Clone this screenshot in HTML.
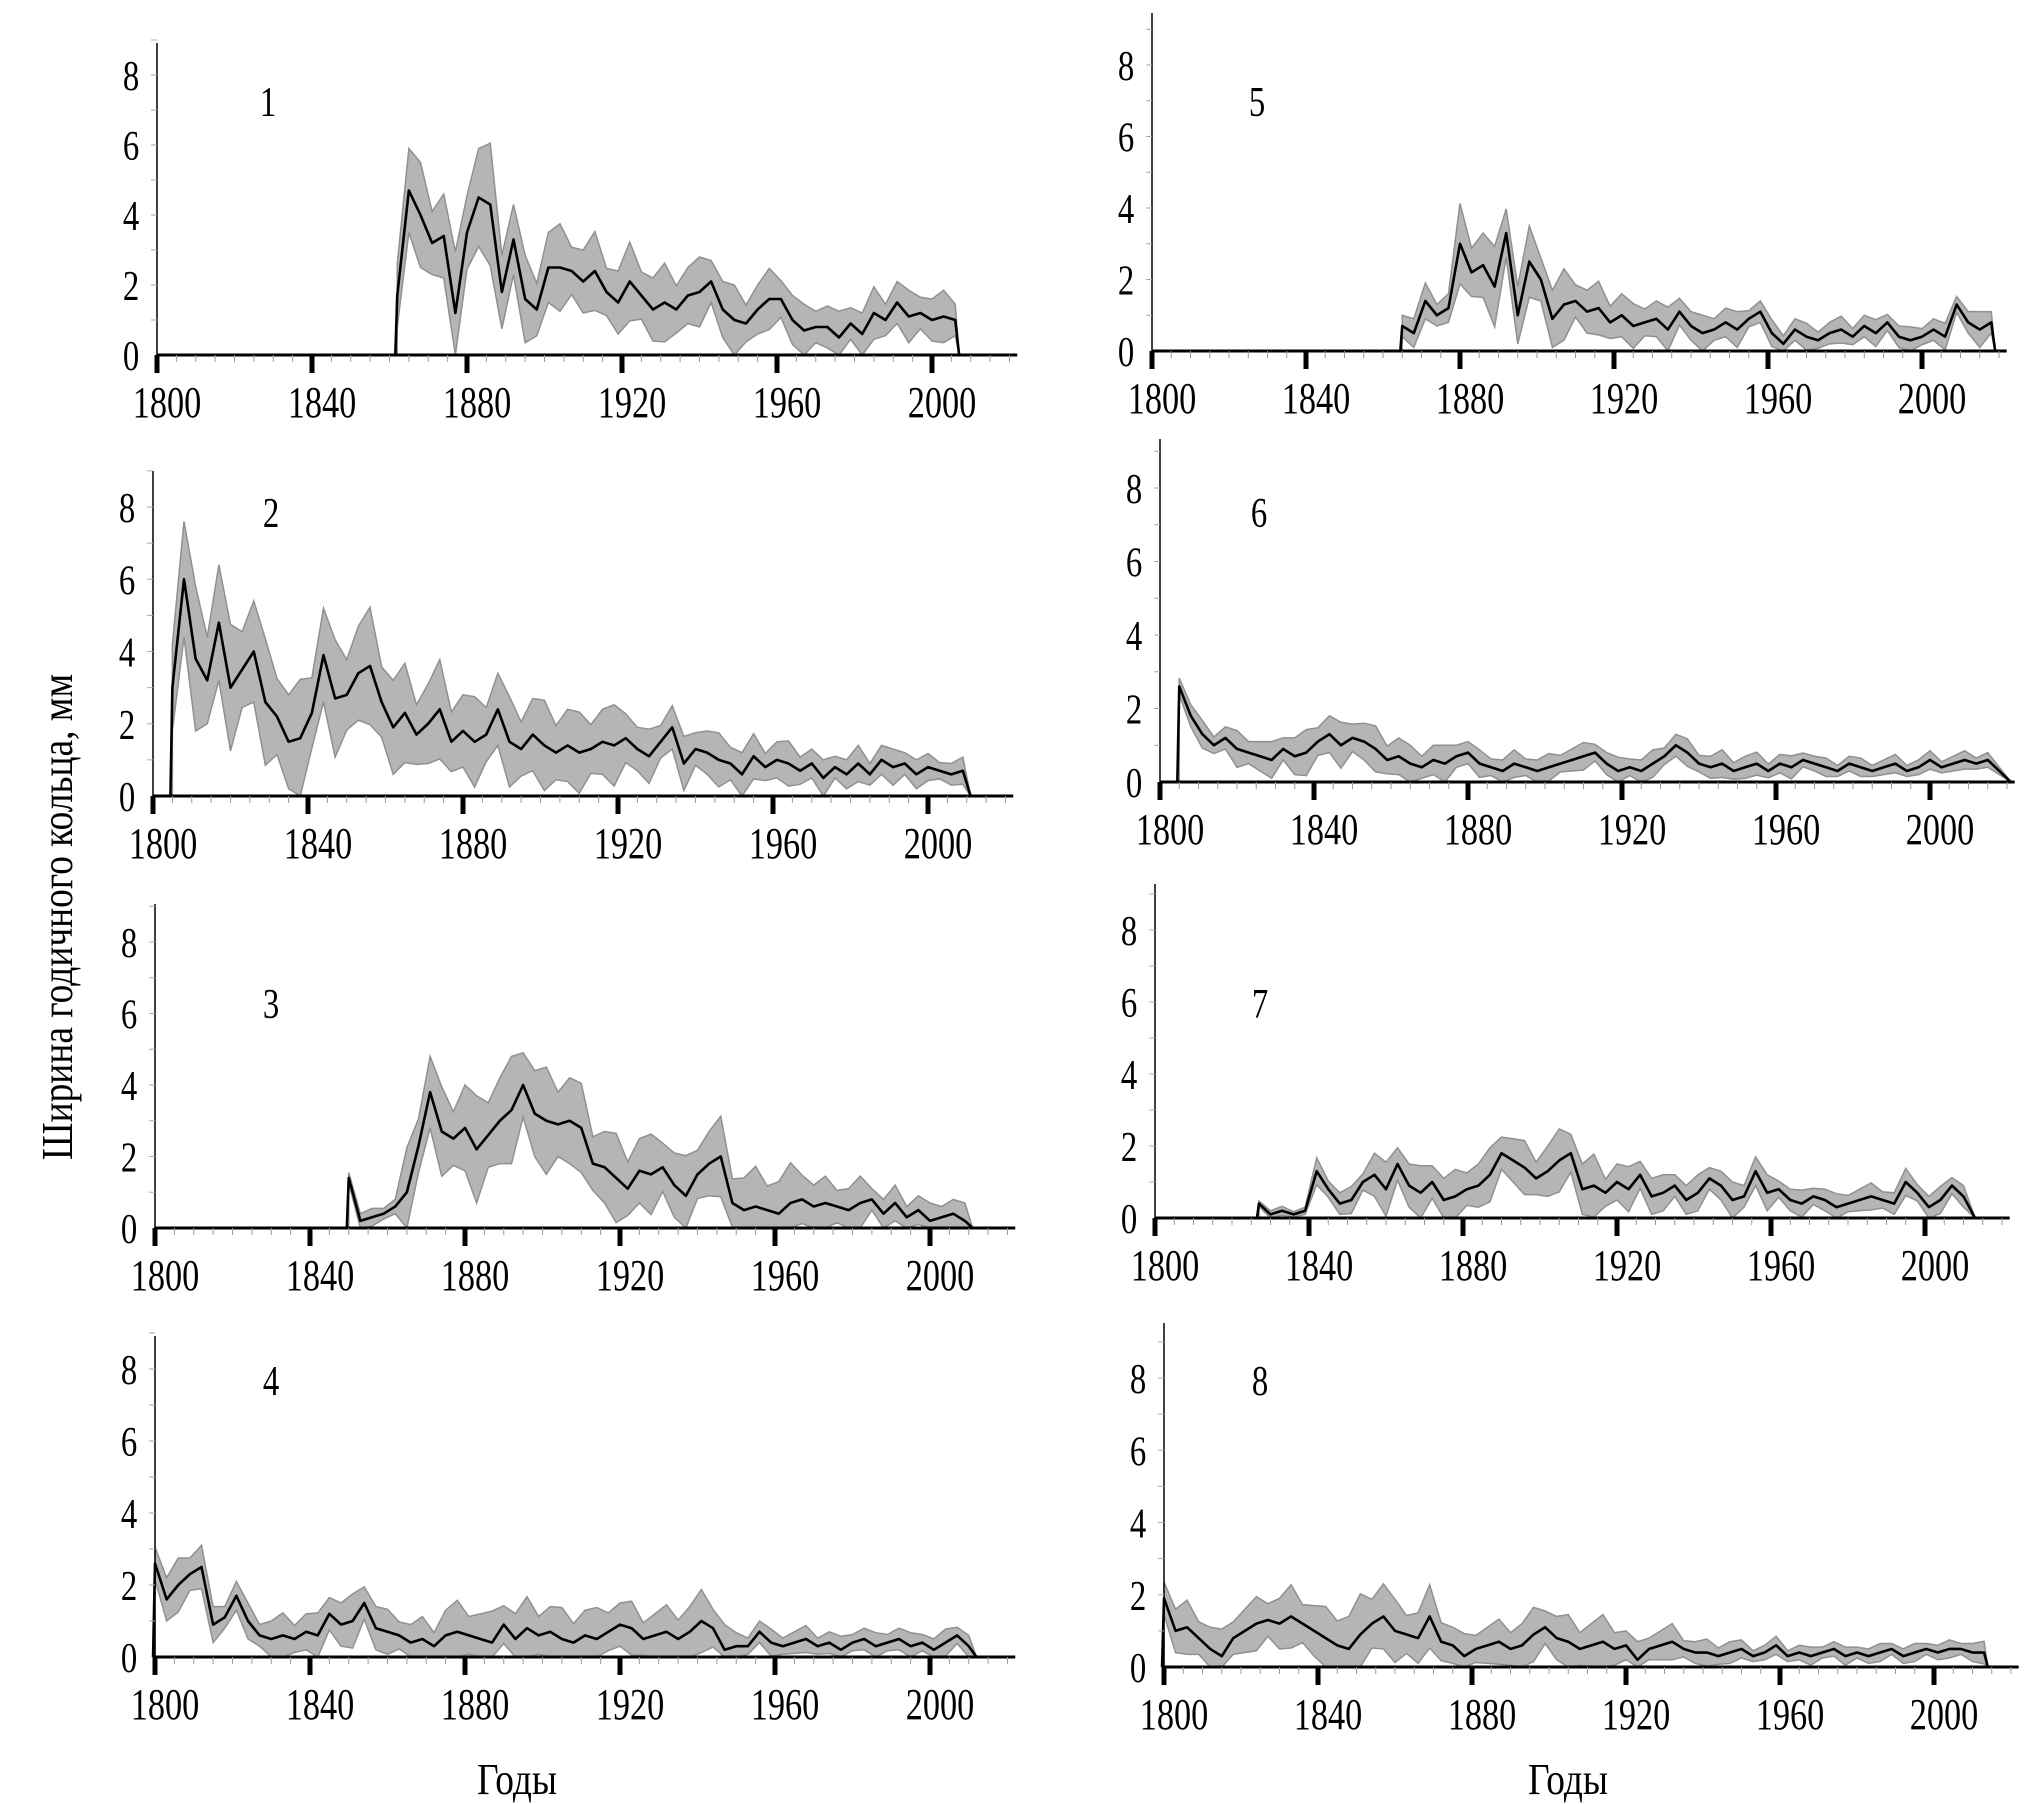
<!DOCTYPE html>
<html><head><meta charset="utf-8"><style>
html,body{margin:0;padding:0;background:#fff}
svg{display:block}
text{font-family:"Liberation Serif","DejaVu Serif",serif;fill:#000}
</style></head><body>
<svg id="fig" width="2043" height="1804" viewBox="0 0 2043 1804" xmlns="http://www.w3.org/2000/svg">
<g id="root"></g>
</svg>
<script>
// Data: start year, step 3 years; mean ring width (mm) and coarse SD (per 15 yr)
const start1=1862, mean1=[1.7,4.7,4.0,3.2,3.4,1.2,3.5,4.5,4.3,1.8,3.3,1.6,1.3,2.5,2.5,2.4,2.1,2.4,1.8,1.5,2.1,1.7,1.3,1.5,1.3,1.7,1.8,2.1,1.3,1.0,0.9,1.3,1.6,1.6,1.0,0.7,0.8,0.8,0.5,0.9,0.6,1.2,1.0,1.5,1.1,1.2,1.0,1.1,1.0];
const sd1=[1.2,1.4,1.0,0.9,0.9,0.8,0.7,0.6,0.6,0.6];
const start2=1805, mean2=[3.0,6.0,3.8,3.2,4.8,3.0,3.5,4.0,2.6,2.2,1.5,1.6,2.3,3.9,2.7,2.8,3.4,3.6,2.6,1.9,2.3,1.7,2.0,2.4,1.5,1.8,1.5,1.7,2.4,1.5,1.3,1.7,1.4,1.2,1.4,1.2,1.3,1.5,1.4,1.6,1.3,1.1,1.5,1.9,0.9,1.3,1.2,1.0,0.9,0.6,1.1,0.8,1.0,0.9,0.7,0.9,0.5,0.8,0.6,0.9,0.6,1.0,0.8,0.9,0.6,0.8,0.7,0.6,0.7];
const sd2=[1.6,1.4,1.3,1.3,1.1,1.0,1.0,0.9,0.6,0.6,0.5,0.4,0.4,0.3,0.3];
const start3=1850, mean3=[1.4,0.2,0.3,0.4,0.6,1.0,2.3,3.8,2.7,2.5,2.8,2.2,2.6,3.0,3.3,4.0,3.2,3.0,2.9,3.0,2.8,1.8,1.7,1.4,1.1,1.6,1.5,1.7,1.2,0.9,1.5,1.8,2.0,0.7,0.5,0.6,0.5,0.4,0.7,0.8,0.6,0.7,0.6,0.5,0.7,0.8,0.4,0.7,0.3,0.5,0.2,0.3,0.4,0.2];
const sd3=[0.2,1.0,1.2,1.2,1.0,0.9,0.9,0.9,0.6,0.4,0.4];
const start4=1800, mean4=[2.6,1.6,2.0,2.3,2.5,0.9,1.1,1.7,1.0,0.6,0.5,0.6,0.5,0.7,0.6,1.2,0.9,1.0,1.5,0.8,0.7,0.6,0.4,0.5,0.3,0.6,0.7,0.6,0.5,0.4,0.9,0.5,0.8,0.6,0.7,0.5,0.4,0.6,0.5,0.7,0.9,0.8,0.5,0.6,0.7,0.5,0.7,1.0,0.8,0.2,0.3,0.3,0.7,0.4,0.3,0.4,0.5,0.3,0.4,0.2,0.4,0.5,0.3,0.4,0.5,0.3,0.4,0.2,0.4,0.6,0.3];
const sd4=[0.6,0.4,0.5,0.6,0.5,0.7,0.7,0.7,0.6,0.7,0.3,0.3,0.3,0.3,0.3];
const start5=1865, mean5=[0.7,0.5,1.4,1.0,1.2,3.0,2.2,2.4,1.8,3.3,1.0,2.5,2.0,0.9,1.3,1.4,1.1,1.2,0.8,1.0,0.7,0.8,0.9,0.6,1.1,0.7,0.5,0.6,0.8,0.6,0.9,1.1,0.5,0.2,0.6,0.4,0.3,0.5,0.6,0.4,0.7,0.5,0.8,0.4,0.3,0.4,0.6,0.4,1.3,0.8,0.6,0.8];
const sd5=[0.4,0.9,0.8,0.6,0.5,0.4,0.3,0.3,0.3,0.3,0.4];
const start6=1805, mean6=[2.6,1.8,1.3,1.0,1.2,0.9,0.8,0.7,0.6,0.9,0.7,0.8,1.1,1.3,1.0,1.2,1.1,0.9,0.6,0.7,0.5,0.4,0.6,0.5,0.7,0.8,0.5,0.4,0.3,0.5,0.4,0.3,0.4,0.5,0.6,0.7,0.8,0.5,0.3,0.4,0.3,0.5,0.7,1.0,0.8,0.5,0.4,0.5,0.3,0.4,0.5,0.3,0.5,0.4,0.6,0.5,0.4,0.3,0.5,0.4,0.3,0.4,0.5,0.3,0.4,0.6,0.4,0.5,0.6,0.5,0.6];
const sd6=[0.3,0.4,0.5,0.5,0.4,0.3,0.3,0.3,0.3,0.3,0.25,0.2,0.2,0.2,0.2];
const start7=1827, mean7=[0.4,0.1,0.2,0.1,0.2,1.3,0.8,0.4,0.5,1.0,1.2,0.8,1.5,0.9,0.7,1.0,0.5,0.6,0.8,0.9,1.2,1.8,1.6,1.4,1.1,1.3,1.6,1.8,0.8,0.9,0.7,1.0,0.8,1.2,0.6,0.7,0.9,0.5,0.7,1.1,0.9,0.5,0.6,1.3,0.7,0.8,0.5,0.4,0.6,0.5,0.3,0.4,0.5,0.6,0.5,0.4,1.0,0.7,0.3,0.5,0.9,0.6];
const sd7=[0.1,0.3,0.6,0.6,0.6,0.7,0.5,0.4,0.4,0.3,0.3,0.3,0.3];
const start8=1800, mean8=[1.9,1.0,1.1,0.8,0.5,0.3,0.8,1.0,1.2,1.3,1.2,1.4,1.2,1.0,0.8,0.6,0.5,0.9,1.2,1.4,1.0,0.9,0.8,1.4,0.7,0.6,0.3,0.5,0.6,0.7,0.5,0.6,0.9,1.1,0.8,0.7,0.5,0.6,0.7,0.5,0.6,0.2,0.5,0.6,0.7,0.5,0.4,0.4,0.3,0.4,0.5,0.3,0.4,0.6,0.3,0.4,0.3,0.4,0.5,0.3,0.4,0.3,0.4,0.5,0.3,0.4,0.5,0.4,0.5,0.5,0.4,0.4];
const sd8=[0.6,0.6,0.7,0.9,0.7,0.5,0.6,0.6,0.4,0.3,0.2,0.2,0.2,0.2,0.25];
const yTicks=[0,2,4,6,8];
const xTicks=[1800,1840,1880,1920,1960,2000];
const panelIds=["1","2","3","4","5","6","7","8"];

const NS="http://www.w3.org/2000/svg";
const root=document.getElementById('root');
function mk(tag,attrs,parent){const e=document.createElementNS(NS,tag);for(const k in attrs)e.setAttribute(k,attrs[k]);(parent||root).appendChild(e);return e;}

const geo=[
 {ax:157,y0:355,y8:75,top:43,lx:268,ly:102,end:2007},
 {ax:153,y0:796,y8:507,top:471,lx:271,ly:513,end:2011},
 {ax:155,y0:1228,y8:942,top:904,lx:271,ly:1004,end:2011},
 {ax:155,y0:1657,y8:1369,top:1336,lx:271,ly:1381,end:2012},
 {ax:1152,y0:351,y8:65,top:13,lx:1257,ly:102,end:2019},
 {ax:1160,y0:782,y8:488,top:439,lx:1259,ly:513,end:2021},
 {ax:1155,y0:1218,y8:930,top:884,lx:1260,ly:1004,end:2013},
 {ax:1164,y0:1667,y8:1378,top:1323,lx:1260,ly:1381,end:2014}
];
const starts=[start1,start2,start3,start4,start5,start6,start7,start8];
const means=[mean1,mean2,mean3,mean4,mean5,mean6,mean7,mean8];
const sds=[sd1,sd2,sd3,sd4,sd5,sd6,sd7,sd8];

geo.forEach((g,p)=>{
  const left=p<4;
  const ppy=(left?775:770)/200;
  const X=yr=>g.ax+(yr-1800)*ppy;
  const Y=v=>g.y0-(g.y0-g.y8)*v/8;
  const grp=mk('g',{});
  
  
  const st=starts[p], m=means[p], s=sds[p];
  const yrs=m.map((_,i)=>st+i*3);
  const sdAt=i=>s[Math.min(s.length-1,Math.floor(i*3/15))];
  let up=[],lo=[];
  m.forEach((v,i)=>{const d=sdAt(i)*(1+((i%3)-1)*0.25);up.push([X(yrs[i]),Y(Math.min(9,v+d))]);lo.push([X(yrs[i]),Y(Math.max(0,v-d))]);});
  let pts=[[X(st),Y(0)],...up,[X(g.end),Y(0)],...lo.reverse()];
  const band=mk('polygon',{points:pts.map(q=>q.join(',')).join(' '),fill:'#b5b5b5',stroke:'#909090','stroke-width':1.5},grp);
  
  
  let lp=[[X(st-0.5),Y(0)],...m.map((v,i)=>[X(yrs[i]),Y(v)]),[X(g.end),Y(0)]];
  const line=mk('polyline',{points:lp.map(q=>q.join(',')).join(' '),fill:'none',stroke:'#000','stroke-width':2.6,'stroke-linejoin':'round'},grp);
  
  
  const xa=mk('line',{x1:g.ax,y1:Y(0),x2:X(2022),y2:Y(0),stroke:'#000','stroke-width':3},grp);
  
  
  const ya=mk('line',{x1:g.ax,y1:g.top,x2:g.ax,y2:Y(0)+2,stroke:'#000','stroke-width':1.5},grp);
  
  
  for(let yr=1800;yr<=2020;yr+=5){
    const major=(yr-1800)%40===0;
    mk('line',{x1:X(yr),y1:Y(0),x2:X(yr),y2:Y(0)+(major?18:7),stroke:major?'#000':'#999','stroke-width':major?5:1},grp);
  }
  for(let v=1;v<=9;v++) mk('line',{x1:g.ax-6,y1:Y(v),x2:g.ax,y2:Y(v),stroke:'#aaa','stroke-width':1},grp);
  yTicks.forEach(v=>{
    const t=mk('text',{x:0,y:0,'font-size':42,'text-anchor':'middle',transform:`translate(${g.ax-26},${Y(v)+15}) scale(0.78,1)`},grp);
    t.textContent=v;
    
    
  });
  xTicks.forEach(yr=>{
    const t=mk('text',{x:0,y:0,'font-size':44,'text-anchor':'middle',transform:`translate(${X(yr)+10},${Y(0)+62}) scale(0.78,1)`},grp);
    t.textContent=yr;
    
    
  });
  const pl=mk('text',{x:0,y:0,'font-size':42,'text-anchor':'middle',transform:`translate(${g.lx},${g.ly+14}) scale(0.78,1)`},grp);
  pl.textContent=panelIds[p];
  
  
});
[[517,'x-axis-title-left'],[1568,'x-axis-title-right']].forEach(a=>{
  const t=mk('text',{x:0,y:0,'font-size':44,'text-anchor':'middle',transform:`translate(${a[0]},1794) scale(0.85,1)`});
  t.textContent='Годы';
  
  
});
const yt=mk('text',{x:0,y:0,'font-size':44,'text-anchor':'middle',transform:'translate(72,917) rotate(-90) scale(0.85,1)'});
yt.textContent='Ширина годичного кольца, мм';


</script>
</body></html>
